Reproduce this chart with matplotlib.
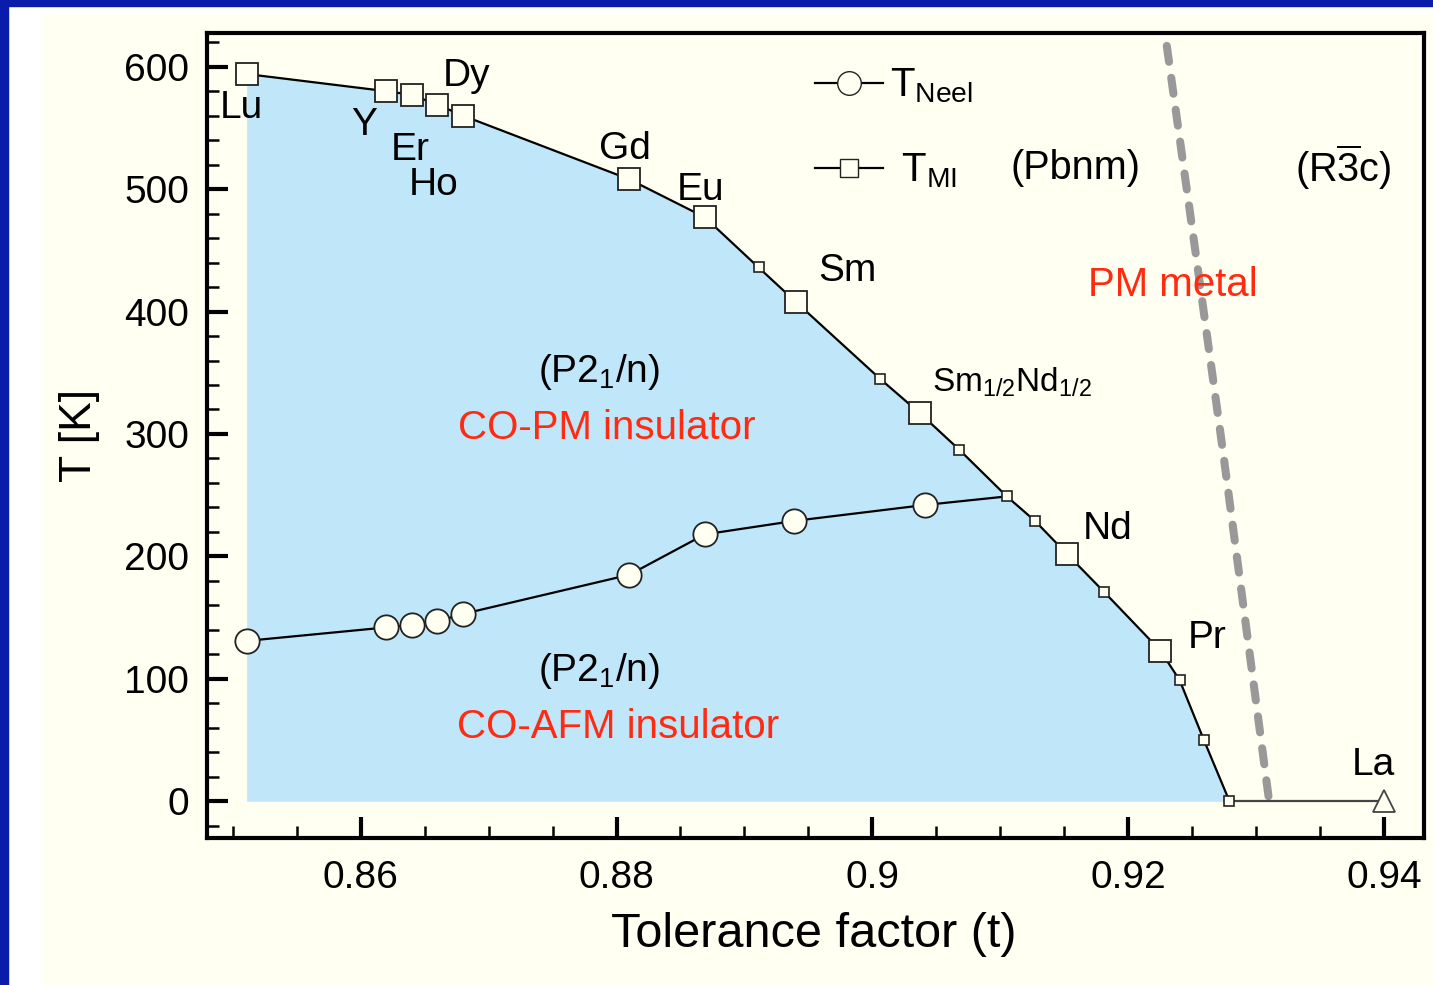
import numpy as np
import matplotlib.pyplot as plt
from matplotlib.lines import Line2D
from matplotlib.patches import Rectangle
from matplotlib.ticker import MultipleLocator

plt.rcParams['font.family'] = ['Liberation Sans', 'DejaVu Sans']
plt.rcParams['mathtext.default'] = 'regular'

# T_MI, all squares in order of tolerance factor
t_mi = [0.8511, 0.8620, 0.8640, 0.8660, 0.8680, 0.8810, 0.8869, 0.8911, 0.8940,
        0.9006, 0.9037, 0.9068, 0.9105, 0.9127, 0.9152, 0.9181, 0.9225, 0.9240,
        0.9259, 0.9279]
T_mi = [594, 580, 577, 569, 560, 508, 477, 436, 408,
        345, 317, 287, 249, 229, 202, 171, 123, 99,
        50, 0]
# big squares = pure rare earths, small = mixed compositions
big = [1, 1, 1, 1, 1, 1, 1, 0, 1, 0, 1, 0, 0, 0, 1, 0, 1, 0, 0, 0]

# T_Neel circles (line ends on the T_MI curve)
t_neel = [0.8511, 0.8620, 0.8640, 0.8660, 0.8680, 0.8810, 0.8869, 0.8939, 0.9041]
T_neel = [131, 142, 144, 147, 153, 185, 218, 229, 242]
t_neel_end, T_neel_end = 0.9105, 249

# La
t_la, T_la = 0.9400, 0

# Pbnm / R-3c boundary
t_bound = [0.9230, 0.9252, 0.9274, 0.9310]
T_bound = [617, 452, 285, 0]

labels = ['Lu', 'Y', 'Er', 'Ho', 'Dy', 'Gd', 'Eu', 'Sm', 'Nd', 'Pr', 'La']
label_t = [0.8507, 0.86025, 0.8639, 0.86568, 0.86832, 0.88066, 0.88656, 0.89803,
           0.91838, 0.92615, 0.93917]
label_T = [566, 552, 532, 503, 592, 533, 499, 433, 222, 133, 30]

cream = '#FFFFF2'
fillc = '#C0E6FA'
red = '#FF2A10'

fig = plt.figure(figsize=(14.33, 9.85), dpi=100, facecolor=cream)
W, H = 1433, 985
fig.patches.append(Rectangle((8 / W, 0), 32 / W, 1 - 6 / H, transform=fig.transFigure,
                             color='white', zorder=0))
fig.patches.append(Rectangle((8 / W, 1 - 13 / H), 1, 7 / H, transform=fig.transFigure,
                             color='white', zorder=0))
fig.patches.append(Rectangle((0, 1 - 6 / H), 1, 6 / H, transform=fig.transFigure,
                             color='#0A1CAA', zorder=1))
fig.patches.append(Rectangle((0, 0), 8 / W, 1, transform=fig.transFigure,
                             color='#0A1CAA', zorder=1))

ax = fig.add_axes([207 / W, 1 - 838 / H, 1217 / W, 805 / H])
ax.set_facecolor(cream)

t_mi_a = np.array(t_mi)
T_mi_a = np.array(T_mi)
big_a = np.array(big, dtype=bool)

ax.fill_between(t_mi_a, 0, T_mi_a, color=fillc, linewidth=0, zorder=1)

ax.plot(t_bound, T_bound, color='#999999', lw=5.8, dashes=(2.0, 2.0),
        dash_capstyle='round', zorder=2)

ax.plot(t_mi_a, T_mi_a, color='black', lw=1.6, zorder=3)
ax.plot([t_mi[-1], t_la], [T_mi[-1], T_la], color='#444444', lw=1.6, zorder=3)
ax.plot(t_neel + [t_neel_end], T_neel + [T_neel_end], color='black', lw=1.6, zorder=3)

ax.plot(t_mi_a[big_a], T_mi_a[big_a], 's', ms=16, mfc=cream, mec='#222222', mew=1.3, zorder=4)
ax.plot(t_mi_a[~big_a], T_mi_a[~big_a], 's', ms=7, mfc=cream, mec='#222222', mew=1.2, zorder=4)
ax.plot(t_neel, T_neel, 'o', ms=17.5, mfc=cream, mec='#222222', mew=1.3, zorder=4)
ax.plot([t_la], [T_la], '^', ms=16, mfc=cream, mec='#444444', mew=1.3, zorder=4)

for s, x, y in zip(labels, label_t, label_T):
    ax.text(x, y, s, fontsize=28, ha='center', va='center', zorder=5)
ax.text(0.90467, 342, r'Sm$_{1/2}$Nd$_{1/2}$', fontsize=24, ha='left', va='center', zorder=5)

ax.text(0.87864, 351, r'(P2$_1$/n)', fontsize=28, ha='center', va='center')
ax.text(0.87927, 305, 'CO-PM insulator', fontsize=29, ha='center', va='center', color=red)
ax.text(0.87864, 106, r'(P2$_1$/n)', fontsize=28, ha='center', va='center')
ax.text(0.88013, 61, 'CO-AFM insulator', fontsize=29, ha='center', va='center', color=red)
ax.text(0.9235, 422, 'PM metal', fontsize=29, ha='center', va='center', color=red, zorder=5)
ax.text(0.91590, 517, '(Pbnm)', fontsize=28.5, ha='center', va='center')
ax.text(0.93680, 518, r'(R$\overline{3}$c)', fontsize=28.5, ha='center', va='center')

handles = [Line2D([], [], color='black', lw=1.6, marker='o', ms=17, mfc=cream, mec='#222222'),
           Line2D([], [], color='black', lw=1.6, marker='s', ms=13, mfc=cream, mec='#222222')]
ax.legend(handles, [r'T$_{Neel}$', r' T$_{MI}$'], loc='upper left',
          bbox_to_anchor=(0.4996, 0.958), frameon=False, fontsize=29,
          handlelength=1.7, handletextpad=0.15, labelspacing=1.15, borderpad=0,
          borderaxespad=0)

ax.set_xlim(0.848, 0.9431)
ax.set_ylim(-30, 627.5)
ax.xaxis.set_major_locator(MultipleLocator(0.02))
ax.xaxis.set_minor_locator(MultipleLocator(0.005))
ax.yaxis.set_major_locator(MultipleLocator(100))
ax.yaxis.set_minor_locator(MultipleLocator(20))
ax.set_xticks([0.86, 0.88, 0.90, 0.92, 0.94])
ax.set_xticklabels(['0.86', '0.88', '0.9', '0.92', '0.94'])
ax.tick_params(which='both', direction='in', top=False, right=False, labelsize=28)
ax.tick_params(which='major', length=15, width=3)
ax.tick_params(which='minor', length=8.5, width=1.8)
ax.tick_params(axis='x', pad=16)
ax.tick_params(axis='y', pad=13)
for sp in ax.spines.values():
    sp.set_linewidth(3)

ax.set_xlabel('Tolerance factor (t)', fontsize=35)
ax.set_ylabel('T [K]', fontsize=32)
ax.xaxis.set_label_coords(0.4988, -0.092)
ax.yaxis.set_label_coords(-0.088, 0.5)

plt.savefig('out.png', dpi=100, facecolor=cream)
plt.close()
